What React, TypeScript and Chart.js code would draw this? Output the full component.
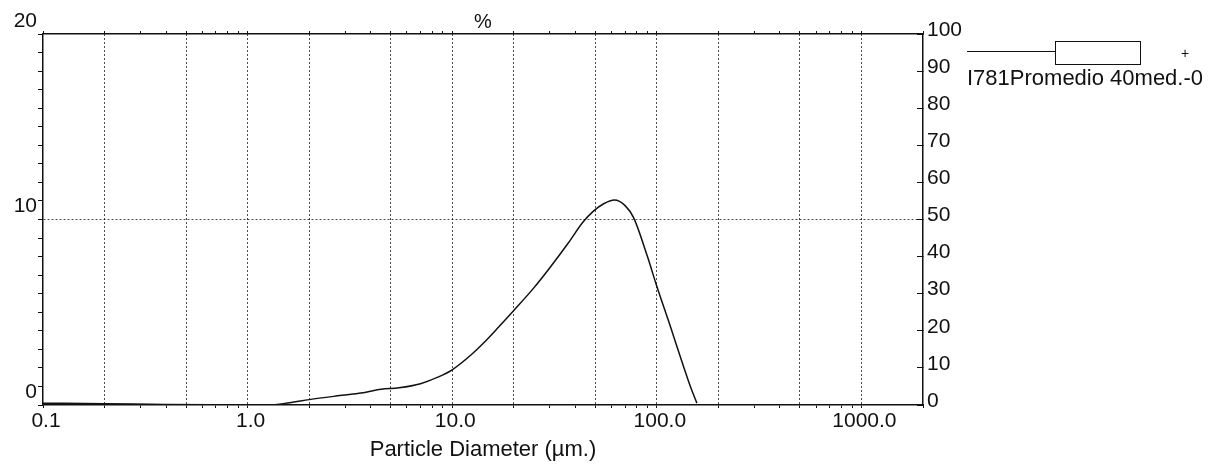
import React, { useEffect, useRef } from "react";
import { Chart, registerables } from "chart.js";

Chart.register(...registerables);

// Particle diameter (µm) and frequency (%)
const DIAMETERS = [0.1, 0.2, 0.4, 0.7, 1.0, 1.25, 1.6, 2.0, 2.7, 3.5, 4.5, 5.5, 7.0, 8.5, 10, 12.5, 15, 17, 20, 25, 30, 37, 43.5, 49, 55, 62, 70, 77, 90, 100, 116, 133, 147, 157];
const FREQUENCY = [0.1, 0.07, 0.03, 0.01, 0.0, 0.0, 0.12, 0.29, 0.48, 0.63, 0.85, 0.93, 1.15, 1.5, 1.9, 2.75, 3.6, 4.25, 5.1, 6.3, 7.4, 8.75, 9.85, 10.45, 10.85, 11.05, 10.75, 10.1, 8.0, 6.4, 4.3, 2.3, 0.9, 0.1];

const X_TICKS = [
  0.1, 0.2, 0.3, 0.4, 0.5, 0.6, 0.7, 0.8, 0.9,
  1, 2, 3, 4, 5, 6, 7, 8, 9,
  10, 20, 30, 40, 50, 60, 70, 80, 90,
  100, 200, 300, 400, 500, 600, 700, 800, 900,
  1000, 2000,
];
const X_GRID = [0.2, 0.5, 1, 2, 5, 10, 20, 50, 100, 200, 500, 1000];
const X_LABEL_VALUES = [0.1, 1, 10, 100, 1000];
const X_LABEL_TEXTS = ["0.1", "1.0", "10.0", "100.0", "1000.0"];
const Y_LEFT_LABELS = [0, 10, 20];
const Y_LEFT_GRID = [10];

const X_TITLE = "Particle Diameter (µm.)";
const TOP_TITLE = "%";
const SERIES_LABEL = "I781Promedio 40med.-0";

const FONT = "'Liberation Sans', Arial, Helvetica, sans-serif";
const INK = "#111";
const DOT = "rgba(0,0,0,0.7)";
const NONE = "rgba(0,0,0,0)";

const near = (a: number, b: number) => Math.abs(a - b) <= Math.abs(b) * 1e-6 + 1e-12;

export default function App() {
  const ref = useRef<HTMLCanvasElement>(null);

  useEffect(() => {
    const canvas = ref.current;
    if (!canvas) return;
    const setXTicks = (s: any) => {
      s.ticks = X_TICKS.map((v) => ({ value: v }));
    };
    const chart = new Chart(canvas, {
      type: "line",
      data: {
        datasets: [
          {
            label: SERIES_LABEL,
            data: DIAMETERS.map((d, i) => ({ x: d, y: FREQUENCY[i] })),
            borderColor: INK,
            borderWidth: 1.5,
            pointRadius: 0,
            fill: false,
            cubicInterpolationMode: "monotone",
            xAxisID: "x",
            yAxisID: "y",
          },
        ],
      },
      options: {
        responsive: false,
        animation: false,
        devicePixelRatio: 1,
        layout: { padding: 0 },
        plugins: { legend: { display: false }, tooltip: { enabled: false } },
        scales: {
          x: {
            type: "logarithmic",
            position: "bottom",
            min: 0.1,
            max: 2000,
            afterBuildTicks: setXTicks,
            afterFit: (s: any) => {
              s.height = 59;
            },
            ticks: {
              autoSkip: false,
              maxRotation: 0,
              minRotation: 0,
              padding: 1,
              labelOffset: 3,
              color: INK,
              font: { family: FONT, size: 21, lineHeight: 1.2 },
              callback: (value: any) => {
                const i = X_LABEL_VALUES.findIndex((v) => near(Number(value), v));
                return i >= 0 ? X_LABEL_TEXTS[i] : "";
              },
            },
            grid: {
              color: (c: any) => (c.tick && X_GRID.some((g) => near(c.tick.value, g)) ? DOT : NONE),
              tickColor: INK,
              tickLength: 3,
              lineWidth: 1,
            },
            border: { display: true, color: INK, width: 1.5, dash: [2, 2] },
            title: {
              display: true,
              text: X_TITLE,
              color: INK,
              font: { family: FONT, size: 22, lineHeight: 1.2 },
              padding: { top: 0, bottom: 1 },
            },
          },
          x2: {
            type: "logarithmic",
            position: "top",
            min: 0.1,
            max: 2000,
            afterBuildTicks: setXTicks,
            afterFit: (s: any) => {
              s.height = 34;
            },
            ticks: { display: false, autoSkip: false },
            grid: { drawOnChartArea: false, tickColor: INK, tickLength: 3 },
            border: { display: true, color: INK, width: 1.5 },
            title: {
              display: true,
              text: TOP_TITLE,
              color: INK,
              font: { family: FONT, size: 20, lineHeight: 1.2 },
              padding: { top: 10, bottom: 0 },
            },
          },
          y: {
            type: "linear",
            position: "left",
            min: 0,
            max: 20,
            afterFit: (s: any) => {
              s.width = 43;
            },
            ticks: {
              stepSize: 1,
              autoSkip: false,
              padding: 1,
              labelOffset: -13,
              color: INK,
              font: { family: FONT, size: 21, lineHeight: 1.2 },
              callback: (value: any) => (Y_LEFT_LABELS.includes(Number(value)) ? String(value) : ""),
            },
            grid: {
              color: (c: any) => (c.tick && Y_LEFT_GRID.includes(c.tick.value) ? DOT : NONE),
              tickColor: INK,
              tickLength: 5,
              lineWidth: 1,
            },
            border: { display: true, color: INK, width: 1.5, dash: [2, 2] },
          },
          y2: {
            type: "linear",
            position: "right",
            min: 0,
            max: 100,
            afterFit: (s: any) => {
              s.width = 297;
            },
            ticks: {
              stepSize: 10,
              autoSkip: false,
              padding: 10,
              labelOffset: -4,
              color: INK,
              font: { family: FONT, size: 21, lineHeight: 1.2 },
            },
            grid: { drawOnChartArea: false, tickColor: INK, tickLength: -6 },
            border: { display: true, color: INK, width: 1.5 },
          },
        },
      },
    } as any);
    return () => chart.destroy();
  }, []);

  return (
    <div style={{ position: "fixed", left: 0, top: 0, width: 1220, height: 464, background: "#fff", overflow: "hidden" }}>
      <canvas ref={ref} width={1220} height={464} style={{ display: "block", width: 1220, height: 464 }} />
      <div style={{ position: "absolute", left: 967, top: 51, width: 88, height: 0, borderTop: `1.5px solid ${INK}` }} />
      <div
        style={{
          position: "absolute",
          left: 1055,
          top: 41,
          width: 86,
          height: 24,
          border: `1.5px solid ${INK}`,
          boxSizing: "border-box",
          background: "#fff",
        }}
      />
      <div style={{ position: "absolute", left: 1181, top: 45, fontFamily: FONT, fontSize: 14, lineHeight: "16px", color: INK }}>+</div>
      <div style={{ position: "absolute", left: 967, top: 65, fontFamily: FONT, fontSize: 22, lineHeight: "26px", color: INK, whiteSpace: "nowrap" }}>
        {SERIES_LABEL}
      </div>
    </div>
  );
}
